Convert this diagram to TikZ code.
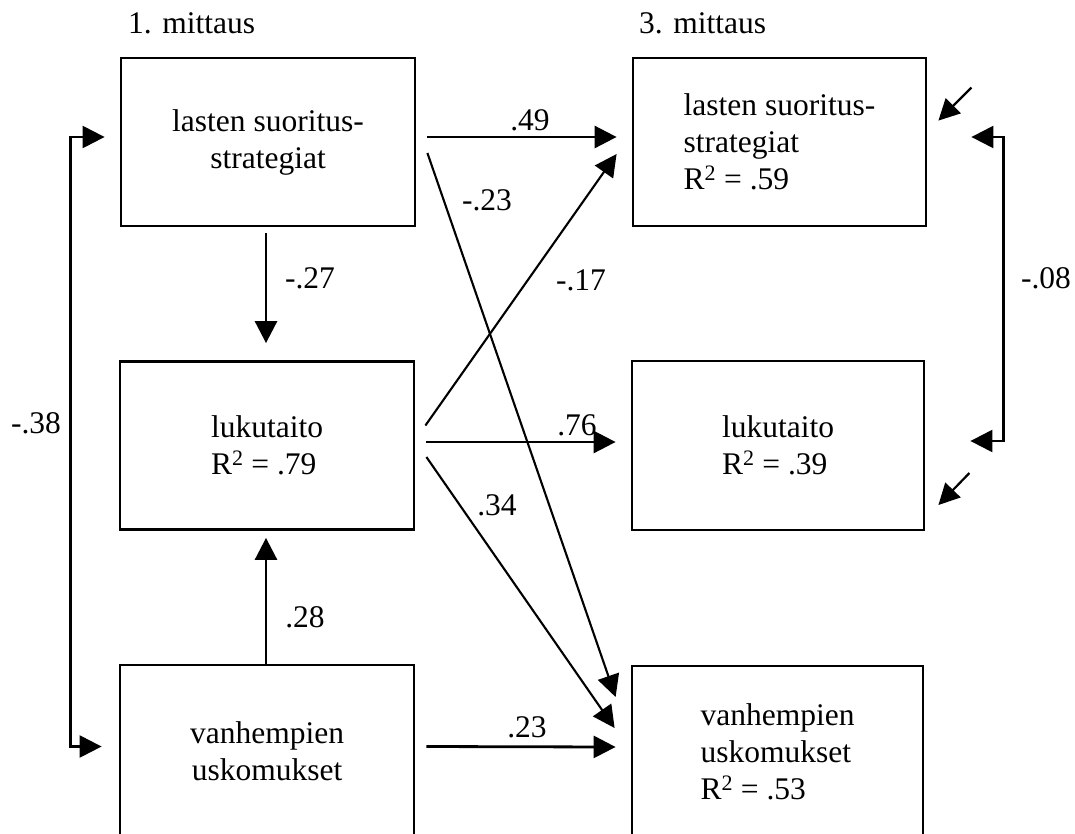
\documentclass[tikz,border=0pt]{standalone}
\usepackage{fontspec}
\setmainfont{Liberation Serif}
\usetikzlibrary{arrows.meta,calc}
\begin{document}
\begin{tikzpicture}[x=1pt,y=-1pt,
  box/.style={draw, line width=2.8pt, minimum width=294pt, minimum height=168pt,
    inner sep=0pt, font=\fontsize{31.5}{37}\selectfont},
  lbl/.style={inner sep=0pt, font=\fontsize{31.5}{37}\selectfont},
  tipbig/.style={-{Triangle[length=22pt,width=22pt]}},
  path/.style={tipbig, line width=2.8pt},
  diag/.style={tipbig, line width=2.1pt},
  corr/.style={{Triangle[length=22pt,width=22pt]}-{Triangle[length=22pt,width=22pt]}, line width=2.3pt},
  resid/.style={-{Triangle[length=21pt,width=21pt]}, line width=2.2pt}]
\useasboundingbox (0,0) rectangle (1075,833);
\clip (0,0) rectangle (1075,833);

% column headings
\node[lbl, anchor=base west] (h1) at (128,33) {1. mittaus};
\node[lbl, anchor=base west] (h3) at (639,33) {3. mittaus};

% measurement 1
\node[box, align=center] (lt) at (268,142) {lasten suoritus-\\strategiat};
\node[box, align=left] (lm) at (267,445.5) {lukutaito\\R\textsuperscript{2} = .79};
\node[box, align=center, minimum height=173pt] (lb) at (267,751.5) {vanhempien\\uskomukset};

% measurement 3
\node[box, align=left, minimum width=293pt] (rt) at (779.5,142) {lasten suoritus-\\strategiat\\R\textsuperscript{2} = .59};
\node[box, align=left, minimum width=292pt, minimum height=169pt] (rm) at (778,445.5) {lukutaito\\R\textsuperscript{2} = .39};
\node[box, align=left, minimum width=291pt, minimum height=172pt] (rb) at (777.5,752) {vanhempien\\uskomukset\\R\textsuperscript{2} = .53};

% paths within measurement 1
\draw[path] ($(lt.south)+(-2,6)$) -- ($(lm.north)+(-1,-17)$);
\draw[path] ($(lb.north)+(-1,0)$) -- ($(lm.south)+(-1,7)$);

% cross-lagged paths
\draw[path] ($(lt.east)+(11,-5)$) -- ($(rt.west)+(-15,-5)$);
\draw[diag] ($(lt.east)+(11,11)$) -- ($(rb.west)+(-15,-55)$);
\draw[diag] ($(lm.east)+(10,-20)$) -- ($(rt.west)+(-15,12)$);
\draw[path] ($(lm.east)+(11,-3.5)$) -- ($(rm.west)+(-15,-3.5)$);
\draw[diag] ($(lm.east)+(11,11.5)$) -- ($(rb.west)+(-16,-24)$);
\draw[path] ($(lb.east)+(11,-5)$) -- ($(rb.west)+(-15,-5)$);

% correlations
\draw[corr] ($(lt.west)+(-15,-5)$) -- ($(lt.west)+(-49,-5)$) |- ($(lb.west)+(-17,-5)$);
\draw[corr] ($(rt.east)+(44,-5)$) -- ($(rt.east)+(76,-5)$) |- ($(rm.east)+(45,-4.5)$);

% residual arrows
\coordinate (e1) at ($(rt.north east)+(44,31)$);
\coordinate (e2) at ($(rm.east)+(44,27.5)$);
\draw[resid] (e1) -- ($(rt.north east)+(11,64)$);
\draw[resid] (e2) -- ($(rm.east)+(13,59.5)$);

% coefficients
\node[lbl] (c49) at (530,120) {.49};
\node[lbl] (c23a) at (487,200) {-.23};
\node[lbl] (c17) at (581,280) {-.17};
\node[lbl] (c76) at (577,425) {.76};
\node[lbl] (c34) at (497,505) {.34};
\node[lbl] (c23b) at (527,727) {.23};
\node[lbl] (c27) at (310,278) {-.27};
\node[lbl] (c28) at (305,617) {.28};
\node[lbl] (c38) at (36,423) {-.38};
\node[lbl] (c08) at (1046,278) {-.08};
\end{tikzpicture}
\end{document}
